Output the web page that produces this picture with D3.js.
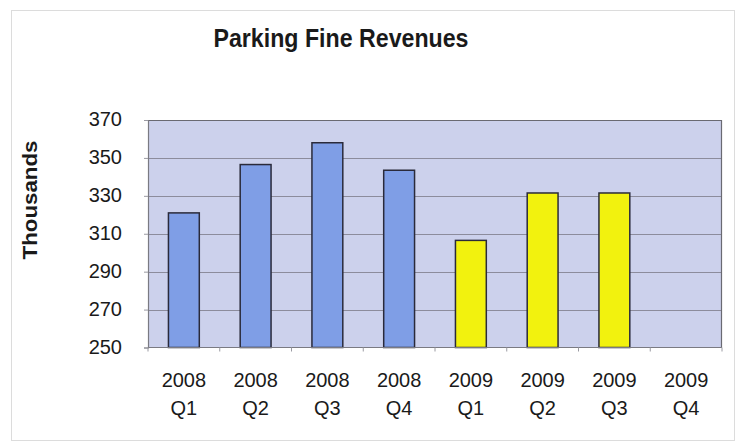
<!DOCTYPE html>
<html>
<head>
<meta charset="utf-8">
<script src="https://cdn.jsdelivr.net/npm/d3@7/dist/d3.min.js"></script>
<style>
  html, body { margin: 0; padding: 0; background: #ffffff; }
  svg { display: block; font-family: "Liberation Sans", Arial, sans-serif; }
</style>
</head>
<body>
<svg id="chart" width="737" height="442"></svg>
<script>
// Quarterly parking fine revenues, in thousands
const years    = ["2008", "2008", "2008", "2008", "2009", "2009", "2009", "2009"];
const quarters = ["Q1", "Q2", "Q3", "Q4", "Q1", "Q2", "Q3", "Q4"];
const revenues = [321, 346.5, 358, 343.5, 306.5, 331.5, 331.5, null];
const yTicks   = [250, 270, 290, 310, 330, 350, 370];

const W = 737, H = 442;
const plot = { left: 148, right: 722, top: 120, bottom: 347.5 };

const svg = d3.select("#chart");
const keys = years.map((y, i) => y + " " + quarters[i]);

// outer frame
svg.append("rect")
  .attr("x", 11.5).attr("y", 10.5)
  .attr("width", 723).attr("height", 430)
  .attr("fill", "#ffffff")
  .attr("stroke", "#dcdcdc").attr("stroke-width", 1);

const x = d3.scaleBand()
  .domain(keys)
  .range([plot.left, plot.right])
  .paddingInner(0.57).paddingOuter(0.285);

const y = d3.scaleLinear()
  .domain([250, 370])
  .range([plot.bottom, plot.top]);

// plot background
svg.append("rect")
  .attr("x", plot.left).attr("y", plot.top)
  .attr("width", plot.right - plot.left).attr("height", plot.bottom - plot.top)
  .attr("fill", "#ccd1ec");

// horizontal gridlines
svg.append("g")
  .selectAll("line")
  .data(yTicks.slice(1, -1))
  .join("line")
  .attr("x1", plot.left).attr("x2", plot.right)
  .attr("y1", d => Math.round(y(d)) + 0.5).attr("y2", d => Math.round(y(d)) + 0.5)
  .attr("stroke", "#8c8c9c").attr("stroke-width", 1);

// plot border (top / right)
svg.append("path")
  .attr("d", `M${plot.left},${plot.top + 0.5}H${plot.right - 0.5}V${plot.bottom}`)
  .attr("fill", "none").attr("stroke", "#6a6a72").attr("stroke-width", 1.2);

// bars
const data = revenues.map((v, i) => ({ key: keys[i], value: v, year: years[i] }));
svg.append("g")
  .selectAll("rect")
  .data(data.filter(d => d.value != null))
  .join("rect")
  .attr("x", d => x(d.key))
  .attr("y", d => y(d.value))
  .attr("width", x.bandwidth())
  .attr("height", d => y(250) - y(d.value))
  .attr("fill", d => d.year === "2008" ? "#7f9ee6" : "#f2f20e")
  .attr("stroke", "#2a2a3a").attr("stroke-width", 1.5);

// y axis
const yAxis = svg.append("g")
  .attr("transform", `translate(${plot.left},0)`)
  .call(d3.axisLeft(y).tickValues(yTicks).tickSize(4).tickPadding(22).tickFormat(d3.format("d")));
yAxis.select(".domain").attr("stroke", "#7a7a82").attr("stroke-width", 1.2);
yAxis.selectAll(".tick line").attr("stroke", "#9a9aa2");
yAxis.selectAll(".tick text")
  .attr("fill", "#1a1a1a")
  .attr("dy", "0.28em")
  .style("font-size", "20px");

// x axis: tick marks on band boundaries
const xAxisG = svg.append("g")
  .attr("transform", `translate(0,${plot.bottom})`);
xAxisG.append("line")
  .attr("x1", plot.left).attr("x2", plot.right)
  .attr("y1", 0).attr("y2", 0)
  .attr("stroke", "#7a7a82").attr("stroke-width", 1.2);
const step = x.step();
xAxisG.selectAll("line.tk")
  .data(d3.range(keys.length + 1))
  .join("line")
  .attr("class", "tk")
  .attr("x1", i => plot.left + i * step).attr("x2", i => plot.left + i * step)
  .attr("y1", 0).attr("y2", 4)
  .attr("stroke", "#9a9aa2");

// x labels (two lines)
const lbl = svg.append("g").selectAll("text")
  .data(data)
  .join("text")
  .attr("text-anchor", "middle")
  .attr("fill", "#1a1a1a")
  .style("font-size", "20px");
lbl.append("tspan").attr("x", d => x(d.key) + x.bandwidth() / 2).attr("y", 387).text((d, i) => years[i]);
lbl.append("tspan").attr("x", d => x(d.key) + x.bandwidth() / 2).attr("y", 415).text((d, i) => quarters[i]);

// title
svg.append("text")
  .attr("x", 341).attr("y", 47)
  .attr("text-anchor", "middle")
  .attr("fill", "#1a1a1a")
  .attr("textLength", 255).attr("lengthAdjust", "spacingAndGlyphs")
  .style("font-size", "25px").style("font-weight", "bold")
  .text("Parking Fine Revenues");

// y axis title
svg.append("text")
  .attr("transform", "translate(37,200) rotate(-90)")
  .attr("text-anchor", "middle")
  .attr("fill", "#1a1a1a")
  .attr("textLength", 119).attr("lengthAdjust", "spacingAndGlyphs")
  .style("font-size", "21px").style("font-weight", "bold")
  .text("Thousands");
</script>
</body>
</html>
